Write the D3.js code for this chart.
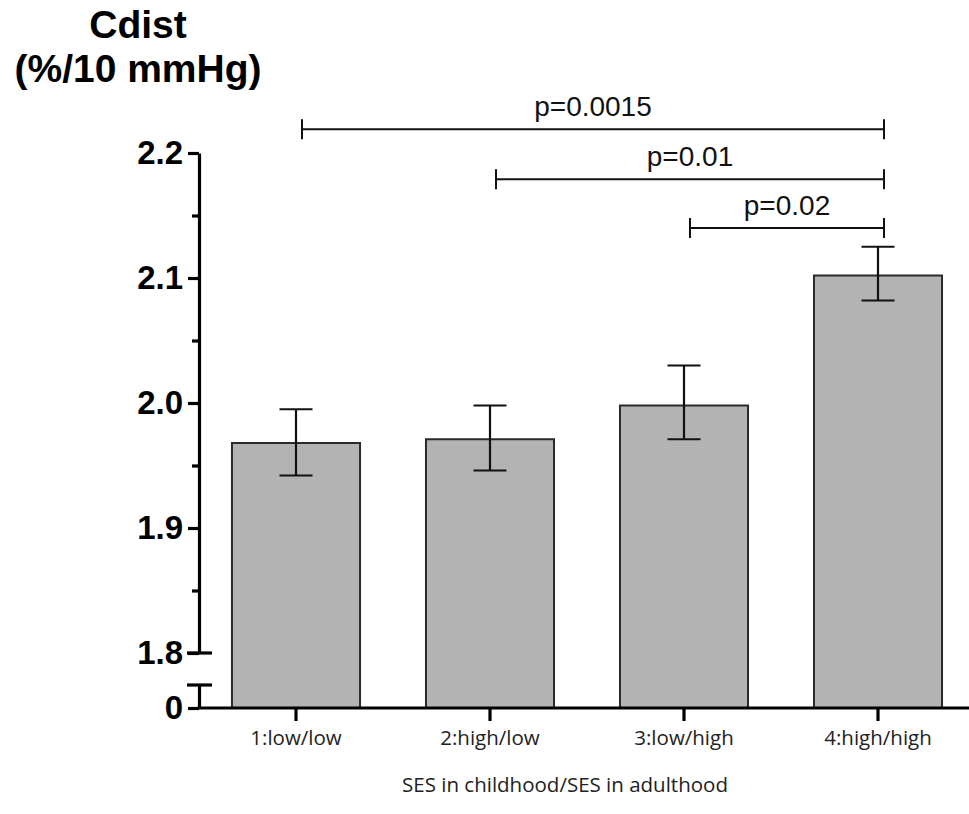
<!DOCTYPE html>
<html>
<head>
<meta charset="utf-8">
<script src="https://cdn.jsdelivr.net/npm/d3@7"></script>
<style>
  html, body { margin: 0; padding: 0; background: #fff; }
  svg { display: block; }
</style>
</head>
<body>
<div id="chart"></div>
<script>
// ---- data ----
const categories = ["1:low/low", "2:high/low", "3:low/high", "4:high/high"];
const means      = [1.968, 1.971, 1.998, 2.102];
const errLow     = [1.942, 1.946, 1.971, 2.082];
const errHigh    = [1.995, 1.998, 2.030, 2.125];
const yTicks      = [1.8, 1.9, 2.0, 2.1, 2.2];
const yTickLabels = ["1.8", "1.9", "2.0", "2.1", "2.2"];
const yMinorTicks = [1.85, 1.95, 2.05, 2.15];
const yLowTicks   = [0];
const compFrom   = [0, 1, 2];
const compTo     = [3, 3, 3];
const compLevel  = [2.219, 2.179, 2.140];
const compLabel  = ["p=0.0015", "p=0.01", "p=0.02"];
const yTitle = ["Cdist", "(%/10 mmHg)"];
const xTitle = "SES in childhood/SES in adulthood";

// ---- layout ----
const W = 969, H = 814;
const axisX = 199, baseY = 708, breakY = 685;

const svg = d3.select("#chart").append("svg").attr("width", W).attr("height", H);

const x = d3.scaleBand().domain(categories).range([axisX, 975])
  .paddingInner(0.34).paddingOuter(0.17);
const y = d3.scaleLinear().domain([1.8, 2.2]).range([653, 153]);
const yLow = d3.scaleLinear().domain([0, 1]).range([baseY, breakY]);

const data = categories.map((c, i) => ({c, m: means[i], lo: errLow[i], hi: errHigh[i]}));

// bars
svg.append("g").selectAll("rect").data(data).join("rect")
  .attr("x", d => x(d.c))
  .attr("y", d => y(d.m))
  .attr("width", x.bandwidth())
  .attr("height", d => baseY - y(d.m))
  .attr("fill", "#b3b3b3")
  .attr("stroke", "#2a2a2a")
  .attr("stroke-width", 2);

// error bars
const capW = 33;
const eb = svg.append("g").attr("stroke", "#111").attr("stroke-width", 2.2);
data.forEach(d => {
  const cx = x(d.c) + x.bandwidth() / 2;
  eb.append("line").attr("x1", cx).attr("x2", cx).attr("y1", y(d.hi)).attr("y2", y(d.lo));
  eb.append("line").attr("x1", cx - capW/2).attr("x2", cx + capW/2).attr("y1", y(d.hi)).attr("y2", y(d.hi));
  eb.append("line").attr("x1", cx - capW/2).attr("x2", cx + capW/2).attr("y1", y(d.lo)).attr("y2", y(d.lo));
});

// y axis (upper)
const axisFont = "'Liberation Sans', Arial, sans-serif";
const gy = svg.append("g").attr("transform", `translate(${axisX},0)`)
  .call(d3.axisLeft(y).tickValues(yTicks).tickFormat((d, i) => yTickLabels[i]).tickSize(11).tickSizeOuter(0).tickPadding(5));
gy.append("g").call(d3.axisLeft(y).tickValues(yMinorTicks).tickFormat("").tickSize(7).tickSizeOuter(0))
  .select(".domain").remove();
// lower segment
const gyl = svg.append("g").attr("transform", `translate(${axisX},0)`)
  .call(d3.axisLeft(yLow).tickValues(yLowTicks).tickFormat(d3.format("d")).tickSize(11).tickSizeOuter(0).tickPadding(5));
[gy, gyl].forEach(g => {
  g.selectAll(".domain, .tick line").attr("stroke", "#000").attr("stroke-width", 3.2);
  g.selectAll("text").attr("font-family", axisFont).attr("font-weight", "bold")
    .attr("font-size", 33).attr("fill", "#000");
});
// break caps
svg.append("line").attr("x1", axisX - 12).attr("x2", axisX + 13)
  .attr("y1", y(1.8)).attr("y2", y(1.8)).attr("stroke", "#000").attr("stroke-width", 3.2);
svg.append("line").attr("x1", axisX - 12).attr("x2", axisX + 13)
  .attr("y1", breakY).attr("y2", breakY).attr("stroke", "#000").attr("stroke-width", 3.2);

// x axis
const gx = svg.append("g").attr("transform", `translate(0,${baseY})`)
  .call(d3.axisBottom(x).tickSize(13).tickSizeOuter(0).tickPadding(9));
gx.select(".domain").attr("d", `M${axisX - 1.5},0H${W}`);
gx.selectAll(".domain, .tick line").attr("stroke", "#000").attr("stroke-width", 3.2);
gx.selectAll("text").attr("font-family", "'Open Sans', sans-serif")
  .attr("font-size", 20.5).attr("fill", "#222");

// x title
svg.append("text").attr("x", 565).attr("y", 792).attr("text-anchor", "middle")
  .attr("font-family", "'Open Sans', sans-serif").attr("font-size", 20.5).attr("fill", "#222")
  .text(xTitle);

// y title
svg.append("g").selectAll("text").data(yTitle).join("text")
  .attr("x", 138).attr("y", (d, i) => 38 + i * 44)
  .attr("text-anchor", "middle")
  .attr("font-family", axisFont).attr("font-weight", "bold").attr("font-size", 39)
  .attr("fill", "#000").text(d => d);

// comparison brackets
const bg = svg.append("g");
compLabel.forEach((lab, i) => {
  const x1 = x(categories[compFrom[i]]) + x.bandwidth() / 2 + 6;
  const x2 = x(categories[compTo[i]]) + x.bandwidth() / 2 + 6;
  const yy = y(compLevel[i]);
  const g = bg.append("g").attr("stroke", "#111").attr("stroke-width", 2);
  g.append("line").attr("x1", x1).attr("x2", x2).attr("y1", yy).attr("y2", yy);
  g.append("line").attr("x1", x1).attr("x2", x1).attr("y1", yy - 10).attr("y2", yy + 10);
  g.append("line").attr("x1", x2).attr("x2", x2).attr("y1", yy - 10).attr("y2", yy + 10);
  bg.append("text").attr("x", (x1 + x2) / 2).attr("y", yy - 13).attr("text-anchor", "middle")
    .attr("font-family", axisFont).attr("font-size", 28).attr("fill", "#111").text(lab);
});
</script>
</body>
</html>
